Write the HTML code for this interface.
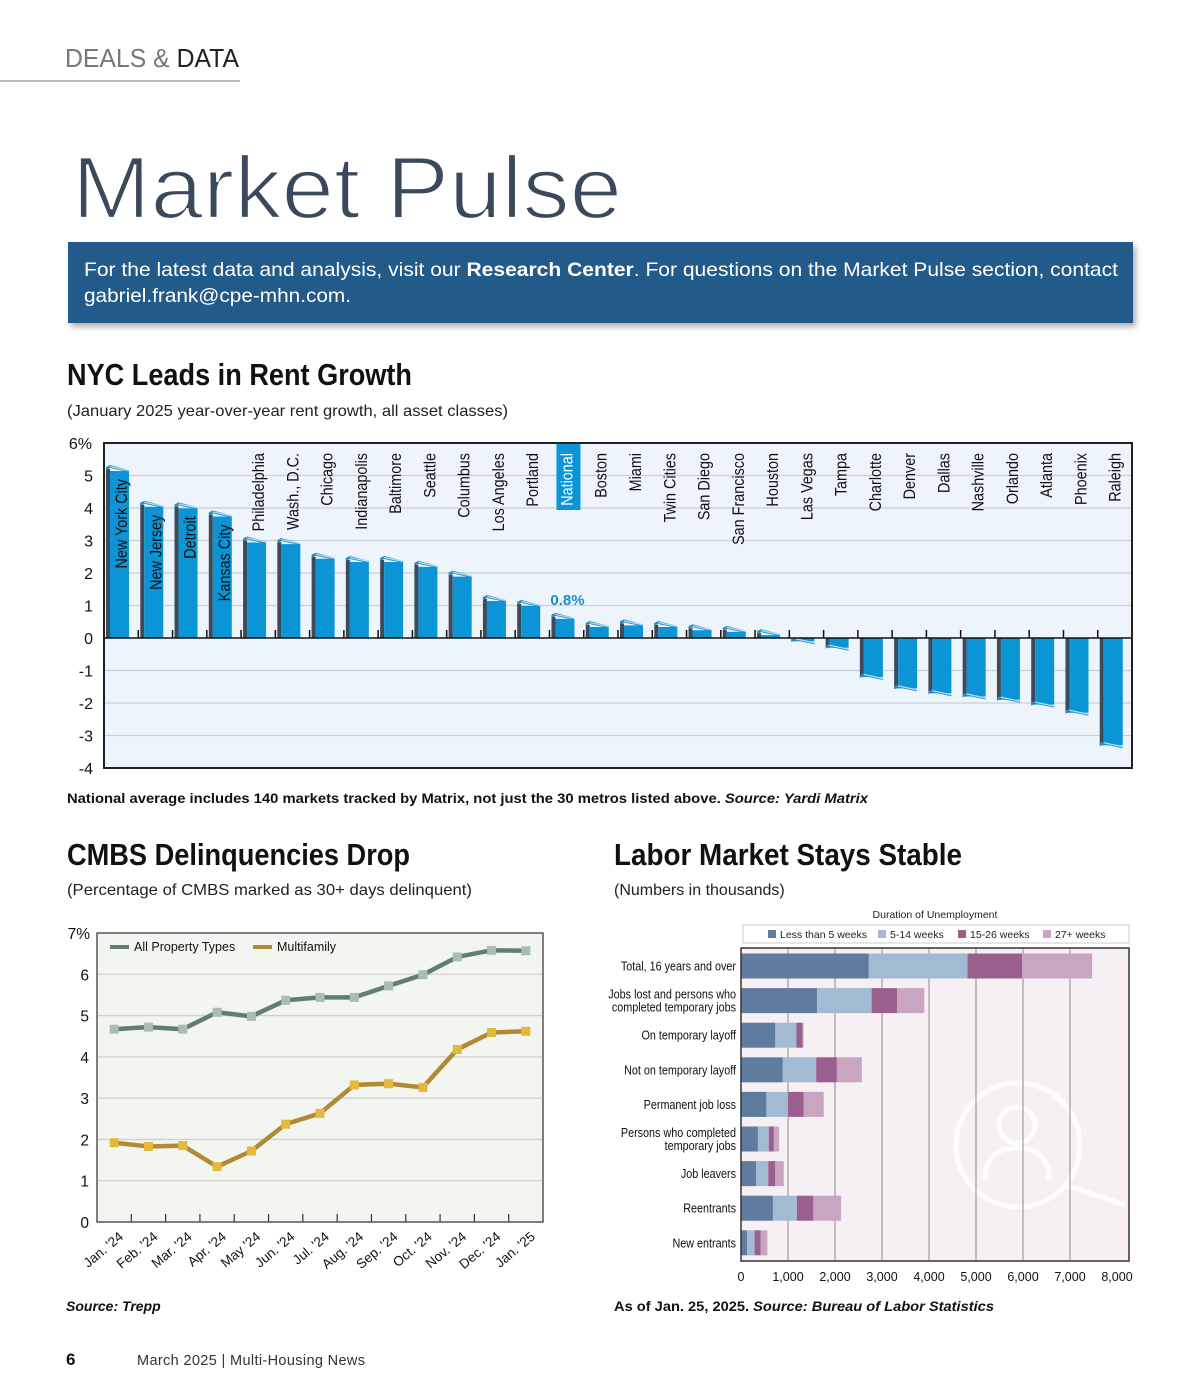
<!DOCTYPE html>
<html><head><meta charset="utf-8"><style>
html,body{margin:0;padding:0;background:#fff;width:1200px;height:1400px;overflow:hidden}
svg{display:block}
text{font-family:"Liberation Sans",sans-serif}
.nar{font-family:"Liberation Sans Narrow","Liberation Sans",sans-serif}
</style></head><body>
<svg id="pg" width="1200" height="1400" viewBox="0 0 1200 1400" xmlns="http://www.w3.org/2000/svg">
<defs><filter id="sh" x="-5%" y="-20%" width="110%" height="150%"><feDropShadow dx="3" dy="4" stdDeviation="3" flood-color="#000" flood-opacity="0.3"/></filter></defs>
<g>
<text x="65" y="67" font-size="26" fill="#777" textLength="174" lengthAdjust="spacingAndGlyphs">DEALS &amp; <tspan fill="#222">DATA</tspan></text>
<rect x="0" y="80" width="240" height="2" fill="#bbb"/>
<text x="72" y="218" font-size="88" fill="#3a4a5c" stroke="#fff" stroke-width="2.2" textLength="550" lengthAdjust="spacingAndGlyphs">Market Pulse</text>
<rect x="68" y="242" width="1065" height="81" fill="#215a8a" filter="url(#sh)"/>
<text x="84" y="276" font-size="19.5" fill="#fff" textLength="1034" lengthAdjust="spacingAndGlyphs">For the latest data and analysis, visit our <tspan font-weight="bold">Research Center</tspan>. For questions on the Market Pulse section, contact</text>
<text x="84" y="302" font-size="19.5" fill="#fff" textLength="267" lengthAdjust="spacingAndGlyphs">gabriel.frank@cpe-mhn.com.</text>
</g>
<g>
<text x="67" y="385" class="nar" font-size="31" font-weight="bold" fill="#111" textLength="345" lengthAdjust="spacingAndGlyphs">NYC Leads in Rent Growth</text>
<text x="67" y="416" font-size="16" fill="#222" textLength="441" lengthAdjust="spacingAndGlyphs">(January 2025 year-over-year rent growth, all asset classes)</text>
<g id="rent"></g>
<text x="67" y="803" font-size="14" font-weight="bold" fill="#111" textLength="801" lengthAdjust="spacingAndGlyphs">National average includes 140 markets tracked by Matrix, not just the 30 metros listed above. <tspan font-style="italic">Source: Yardi Matrix</tspan></text>
</g>
<g>
<text x="67" y="865" class="nar" font-size="31" font-weight="bold" fill="#111" textLength="343" lengthAdjust="spacingAndGlyphs">CMBS Delinquencies Drop</text>
<text x="67" y="895" font-size="16" fill="#222" textLength="405" lengthAdjust="spacingAndGlyphs">(Percentage of CMBS marked as 30+ days delinquent)</text>
<g id="cmbs"></g>
<text x="66" y="1311" font-size="14" font-weight="bold" font-style="italic" fill="#111">Source: Trepp</text>
</g>
<g>
<text x="614" y="865" class="nar" font-size="31" font-weight="bold" fill="#111" textLength="348" lengthAdjust="spacingAndGlyphs">Labor Market Stays Stable</text>
<text x="614" y="895" font-size="16" fill="#222">(Numbers in thousands)</text>
<g id="labor"></g>
<text x="614" y="1311" font-size="14" font-weight="bold" fill="#111" textLength="380" lengthAdjust="spacingAndGlyphs">As of Jan. 25, 2025. <tspan font-style="italic">Source: Bureau of Labor Statistics</tspan></text>
</g>
<g>
<text x="66" y="1365" font-size="17" font-weight="bold" fill="#111">6</text>
<text x="137" y="1365" font-size="14.5" fill="#333" textLength="228" lengthAdjust="spacing">March 2025  |  Multi-Housing News</text>
</g>
</svg>
<script>
const NS='http://www.w3.org/2000/svg';
function mk(p,t,a){const e=document.createElementNS(NS,t);for(const k in a)e.setAttribute(k,a[k]);p.appendChild(e);return e;}

// ---------- Rent growth data ----------
const rentCities=["New York City","New Jersey","Detroit","Kansas City","Philadelphia","Wash., D.C.","Chicago","Indianapolis","Baltimore","Seattle","Columbus","Los Angeles","Portland","National","Boston","Miami","Twin Cities","San Diego","San Francisco","Houston","Las Vegas","Tampa","Charlotte","Denver","Dallas","Nashville","Orlando","Atlanta","Phoenix","Raleigh"];
const rentValues=[5.2,4.1,4.05,3.8,3.0,2.95,2.5,2.4,2.4,2.25,1.95,1.2,1.05,0.65,0.4,0.45,0.4,0.3,0.25,0.15,-0.1,-0.3,-1.2,-1.55,-1.7,-1.8,-1.9,-2.05,-2.3,-3.3];
const rentTicks=[6,5,4,3,2,1,0,-1,-2,-3,-4];
const nationalLabel="0.8%";

(function(){
 const g=document.getElementById('rent');
 const X0=104,X1=1132,Y6=443,Y0=638;
 const ppu=(Y0-Y6)/6;
 const y=v=>Y0-v*ppu;
 const slot=(X1-X0)/rentCities.length;
 const bg=mk(g,'rect',{x:X0,y:Y6,width:X1-X0,height:y(-4)-Y6,fill:'#eef4fb'});
 
 rentTicks.forEach(t=>{
  if(t!==6&&t!==-4&&t!==0){const l=mk(g,'line',{x1:X0,x2:X1,y1:y(t),y2:y(t),stroke:'#c9cfd6','stroke-width':1.3});
  }
  const tx=mk(g,'text',{x:93,y:y(t)+6,'text-anchor':'end','font-size':16,fill:'#111'});
  tx.textContent=t===6?'6%':String(t);
  if(t===6)tx.setAttribute('x',92);
  
 });
 rentCities.forEach((c,i)=>{
  const sx=X0+i*slot, v=rentValues[i];
  const top=Math.min(y(v),Y0), bot=Math.max(y(v),Y0);
  const bx=sx+2;
  const grp=mk(g,'g',{});
  
  
  if(bot-top>0.5){
   mk(grp,'rect',{x:bx,y:top,width:4,height:bot-top,fill:'#3c4a5a'});
   mk(grp,'rect',{x:bx+4,y:top+(v>=0?2:0),width:19,height:bot-top-(v>=0?2:0),fill:'#0b94d6'});
  }
  const cy=v>=0?top:bot;
  mk(grp,'polygon',{points:`${bx},${cy-2} ${bx+4},${cy-4} ${bx+23},${cy+1} ${bx+23},${cy+3} ${bx+4},${cy-1} ${bx},${cy+1}`,fill:'#2a8ac0'});
  mk(grp,'line',{x1:bx+4,y1:cy-2.5,x2:bx+23,y2:cy+1.5,stroke:'#a8e0f8','stroke-width':1.3});
  if(i>0){const tk=mk(g,'line',{x1:sx,x2:sx,y1:Y0,y2:Y0-8,stroke:'#111','stroke-width':1.5});
   }
  const lx=bx+21;
  let ly=453;
  if(v>3.5) ly=top+10;
  if(c==='National'){const hb=mk(g,'rect',{x:sx+19-12,y:Y6,width:24,height:67,fill:'#0b94d6'});
   }
  const t=mk(g,'text',{x:0,y:0,transform:`translate(${lx},${ly}) rotate(-90) scale(0.9,1.05)`,'text-anchor':'end','font-size':16,fill:c==='National'?'#fff':'#111',class:'nar'});
  t.textContent=c;
  
  if(c==='National'){const nl=mk(g,'text',{x:sx+18,y:y(0.8)-27,'text-anchor':'middle','font-size':15,'font-weight':'bold',fill:'#1d8fcb',class:'nar'});
   nl.setAttribute('y',605);
   nl.textContent=nationalLabel;}
 });
 const zl=mk(g,'line',{x1:X0,x2:X1,y1:Y0,y2:Y0,stroke:'#111','stroke-width':1.5});
 
 const fr=mk(g,'rect',{x:X0,y:Y6,width:X1-X0,height:y(-4)-Y6,fill:'none',stroke:'#222','stroke-width':2});
 
})();

// ---------- CMBS data ----------
const cmbsMonths=["Jan. '24","Feb. '24","Mar. '24","Apr. '24","May '24","Jun. '24","Jul. '24","Aug. '24","Sep. '24","Oct. '24","Nov. '24","Dec. '24","Jan. '25"];
const cmbsAll=[4.67,4.72,4.67,5.08,4.98,5.37,5.44,5.44,5.72,5.99,6.42,6.58,6.57];
const cmbsMulti=[1.92,1.83,1.85,1.34,1.72,2.37,2.63,3.32,3.35,3.26,4.18,4.59,4.62];
const cmbsTicks=[0,1,2,3,4,5,6,7];

(function(){
 const g=document.getElementById('cmbs');
 const X0=97,X1=543,Y7=933,Y0=1222;
 const y=v=>Y0-v*(Y0-Y7)/7;
 const step=(X1-X0)/cmbsMonths.length;
 const x=i=>X0+step*(i+0.5);
 const bg=mk(g,'rect',{x:X0,y:Y7,width:X1-X0,height:Y0-Y7,fill:'#f3f5f0'});
 
 cmbsTicks.forEach(t=>{
  if(t>0&&t<7){const l=mk(g,'line',{x1:X0,x2:X1,y1:y(t),y2:y(t),stroke:'#d0d0cc','stroke-width':1.3});
   }
  const tx=mk(g,'text',{x:t===7?90:89,y:y(t)+6,'text-anchor':'end','font-size':15.5,fill:'#111'});
  tx.textContent=t===7?'7%':String(t);
  
 });
 for(let i=1;i<cmbsMonths.length;i++){const tk=mk(g,'line',{x1:X0+step*i,x2:X0+step*i,y1:Y0,y2:Y0-8,stroke:'#333','stroke-width':1.2});
  }
 cmbsMonths.forEach((m,i)=>{const t=mk(g,'text',{x:0,y:0,transform:`translate(${x(i)+10},${1238}) rotate(-40)`,'text-anchor':'end','font-size':13.5,fill:'#111'});
  t.textContent=m;});
 function series(vals,lc,mc,name){
  const p=mk(g,'polyline',{points:vals.map((v,i)=>x(i)+','+y(v)).join(' '),fill:'none',stroke:lc,'stroke-width':4.5,'stroke-linejoin':'round'});
  
  vals.forEach((v,i)=>{const r=mk(g,'rect',{x:x(i)-4.5,y:y(v)-4.5,width:9,height:9,fill:mc});
   });
 }
 series(cmbsAll,'#5f7f70','#a9bfae','all-property-types');
 series(cmbsMulti,'#b28a35','#e3b83c','multifamily');
 const lg=mk(g,'g',{});
 mk(lg,'line',{x1:110,x2:129,y1:947,y2:947,stroke:'#5f7f70','stroke-width':4});
 const a=mk(lg,'text',{x:134,y:951,'font-size':12.5,fill:'#111'});a.textContent='All Property Types';
 mk(lg,'line',{x1:253,x2:272,y1:947,y2:947,stroke:'#b28a35','stroke-width':4});
 const b=mk(lg,'text',{x:277,y:951,'font-size':12.5,fill:'#111'});b.textContent='Multifamily';
 const fr=mk(g,'rect',{x:X0,y:Y7,width:X1-X0,height:Y0-Y7,fill:'none',stroke:'#555','stroke-width':1.5});
 
})();

// ---------- Labor data (thousands) ----------
const laborCats=[["Total, 16 years and over"],["Jobs lost and persons who","completed temporary jobs"],["On temporary layoff"],["Not on temporary layoff"],["Permanent job loss"],["Persons who completed","temporary jobs"],["Job leavers"],["Reentrants"],["New entrants"]];
const laborSeries=["Less than 5 weeks","5-14 weeks","15-26 weeks","27+ weeks"];
const laborLt5=[2720,1620,730,890,540,360,320,680,130];
const labor5to14=[2100,1160,450,710,460,230,260,510,160];
const labor15to26=[1160,540,130,440,330,110,150,350,130];
const labor27plus=[1490,580,20,530,430,110,180,590,140];
const laborTicks=[0,1000,2000,3000,4000,5000,6000,7000,8000];
const laborColors=['#5f7b9d','#a3bad3','#9b5f8e','#c8a6c2'];

(function(){
 const g=document.getElementById('labor');
 const X0=741,X1=1129,Y0=948,Y1=1261;
 const xs=v=>X0+v*0.047;
 const bg=mk(g,'rect',{x:X0,y:Y0,width:X1-X0,height:Y1-Y0,fill:'#f6eff4'});
 
 const wm=mk(g,'g',{fill:'none',stroke:'#fff','stroke-width':5,opacity:0.9});
 
 mk(wm,'circle',{cx:1018,cy:1145,r:62});
 mk(wm,'circle',{cx:1017,cy:1125,r:18});
 mk(wm,'path',{d:'M985,1180 q0,-32 32,-32 q32,0 32,32'});
 mk(wm,'line',{x1:1065,y1:1185,x2:1125,y2:1205});
 laborTicks.forEach(t=>{
  if(t>0&&t<8000){const l=mk(g,'line',{x1:xs(t),x2:xs(t),y1:Y0,y2:Y1,stroke:'#8a8a8a','stroke-width':1});
   }
  const tx=mk(g,'text',{x:xs(t),y:1281,'text-anchor':'middle','font-size':12.5,fill:'#111',class:'nar'});
  tx.textContent=t===0?'0':t.toLocaleString('en-US');
  
 });
 const vals=[laborLt5,labor5to14,labor15to26,labor27plus];
 laborCats.forEach((c,i)=>{
  const cy=966+i*34.6;
  let acc=0;
  vals.forEach((arr,s)=>{
   const r=mk(g,'rect',{x:xs(acc),y:cy-12.5,width:arr[i]*0.047,height:25,fill:laborColors[s]});
   
   acc+=arr[i];
  });
  c.forEach((line,k)=>{
   const t=mk(g,'text',{x:0,y:0,transform:`translate(736,${cy+4.5+(c.length>1?(k===0?-6.5:6.5):0)}) scale(0.9,1.05)`,'text-anchor':'end','font-size':12,fill:'#111',class:'nar'});
   t.textContent=line;
  });
 });
 const fr=mk(g,'rect',{x:X0,y:Y0,width:X1-X0,height:Y1-Y0,fill:'none',stroke:'#333','stroke-width':1.5});
 
 const lt=mk(g,'text',{x:935,y:918,'text-anchor':'middle','font-size':10.5,fill:'#222'});
 lt.textContent='Duration of Unemployment';
 const lb=mk(g,'rect',{x:743,y:925,width:386,height:18,fill:'#fff',stroke:'#ccc'});
 
 const lx=[768,878,958,1043];
 laborSeries.forEach((s,k)=>{
  const sw=mk(g,'rect',{x:lx[k],y:930,width:8,height:8,fill:laborColors[k]});
  
  const t=mk(g,'text',{x:lx[k]+12,y:938,'font-size':10.5,fill:'#222'});
  t.textContent=s;
 });
})();
</script>
</body></html>
